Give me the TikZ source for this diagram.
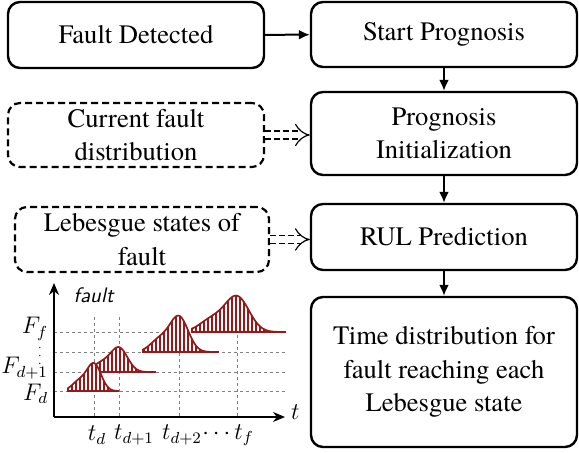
\documentclass[tikz,border=0pt]{standalone}
\usepackage[no-math]{fontspec}
\setmainfont{TeX Gyre Termes}
\usetikzlibrary{arrows.meta,positioning,patterns.meta}
\definecolor{pdfColor}{HTML}{931A1A}
\tikzset{
	procbox/.style={draw, line width=1.2pt, rounded corners=6pt, align=center, inner sep=0pt},
	inbox/.style={draw, line width=1.1pt, dash pattern=on 3.5pt off 2pt, rounded corners=6pt, align=center, inner sep=0pt},
	dblarrow/.style={double, double distance=3.4pt, line width=0.6pt, dash pattern=on 3pt off 1.5pt, -{Implies}},
	grid line/.style={gray, line width=0.4pt, dash pattern=on 1.5pt off 1.5pt},
	plot label/.style={font=\fontsize{11.5}{13}\selectfont, inner sep=1pt}
}
% one hatched distribution: baseline, from, to, peak, height, spread
\newcommand{\faultpdf}[6]{%
	\draw[pdfColor, line width=0.85pt, fill=white,
		postaction={pattern={Lines[angle=90,distance=2pt,line width=0.6pt]}, pattern color=pdfColor}]
	(#2,#1) -- plot[domain=#2:#3, samples=60, smooth] (\x, {#1-#5*(exp(-(((\x-#4)/#6)^2))+0.35*exp(-(((\x-#4+1.5*#6)/#6)^2)))}) -- (#3,#1) -- cycle;
}

\begin{document}
\begin{tikzpicture}[x=0.5pt, y=-0.5pt, >={Latex[length=5.5pt,width=5pt]}, line width=1pt,
	font=\fontsize{13.3}{16.6}\selectfont]
	\useasboundingbox (0,0) rectangle (579,453);
	\node[procbox, minimum width=128pt, minimum height=33pt] (fd) at (136,35) {Fault Detected};
	\node[procbox, minimum width=133pt, minimum height=32.5pt] (sp) at (444,34.5) {Start Prognosis};
	\node[inbox, minimum width=128pt, minimum height=32pt] (cfd) at (136,135) {Current fault\\distribution};
	\node[procbox, minimum width=133pt, minimum height=41.5pt] (pi) at (444,133.5) {Prognosis\\Initialization};
	\node[inbox, minimum width=127pt, minimum height=32.5pt] (lsf) at (142,239.5) {Lebesgue states of\\fault};
	\node[procbox, minimum width=133pt, minimum height=33pt] (rul) at (444,237) {RUL Prediction};
	\node[procbox, minimum width=133pt, minimum height=75pt] (tdl) at (444,372) {Time distribution for\\fault reaching each\\Lebesgue state};
	\path[->] (fd) edge (sp);
	\path[->] (sp) edge (pi);
	\path[->] (pi) edge (rul);
	\path[->] (rul) edge (tdl);
	\draw[dblarrow] (cfd.east) -- (cfd.east -| pi.west);
	\draw[dblarrow] (lsf.east) -- (lsf.east -| rul.west);
	% fault vs. time sketch
	\coordinate (orig) at (54,417);
	\coordinate (ytip) at (54,283);
	\coordinate (xtip) at (285,417);
	\foreach \yy in {332,352,372,391}
		\draw[grid line] (54,\yy) -- (285,\yy);
	\foreach \xx in {94,119,179,237}
		\draw[grid line] (\xx,317) -- (\xx,417);
	\faultpdf{332}{192}{285}{237}{35}{17}
	\faultpdf{352}{143}{218}{179}{35}{13}
	\faultpdf{372}{90}{155}{119}{24}{12}
	\faultpdf{391}{68}{118}{94}{27}{10}
	\draw[-{Stealth[length=6pt,width=5pt]}, line width=0.6pt] (orig) -- (ytip);
	\draw[-{Stealth[length=6pt,width=5pt]}, line width=0.6pt] (orig) -- (xtip);
	\node[font=\sffamily\itshape\fontsize{10.5}{12}\selectfont, anchor=west] (flab) at (66,295) {fault};
	\node[plot label, anchor=west] (tlab) at (288,412) {$t$};
	\node[plot label, anchor=east] (ff) at (51,329) {$F_f$};
	\node[font=\fontsize{6}{6}\selectfont, inner sep=0pt] (fdots) at (40,350) {$\vdots$};
	\node[plot label, anchor=east] (fd1) at (51,368) {$F_{d+1}$};
	\node[plot label, anchor=east] (fd0) at (51,394) {$F_d$};
	\node[plot label] (td) at (97,435) {$t_d$};
	\node[plot label] (td1) at (134,435) {$t_{d+1}$};
	\node[plot label] (td2) at (182,435) {$t_{d+2}$};
	\node[plot label] (tf) at (228,435) {$\cdots t_f$};
\end{tikzpicture}
\end{document}
